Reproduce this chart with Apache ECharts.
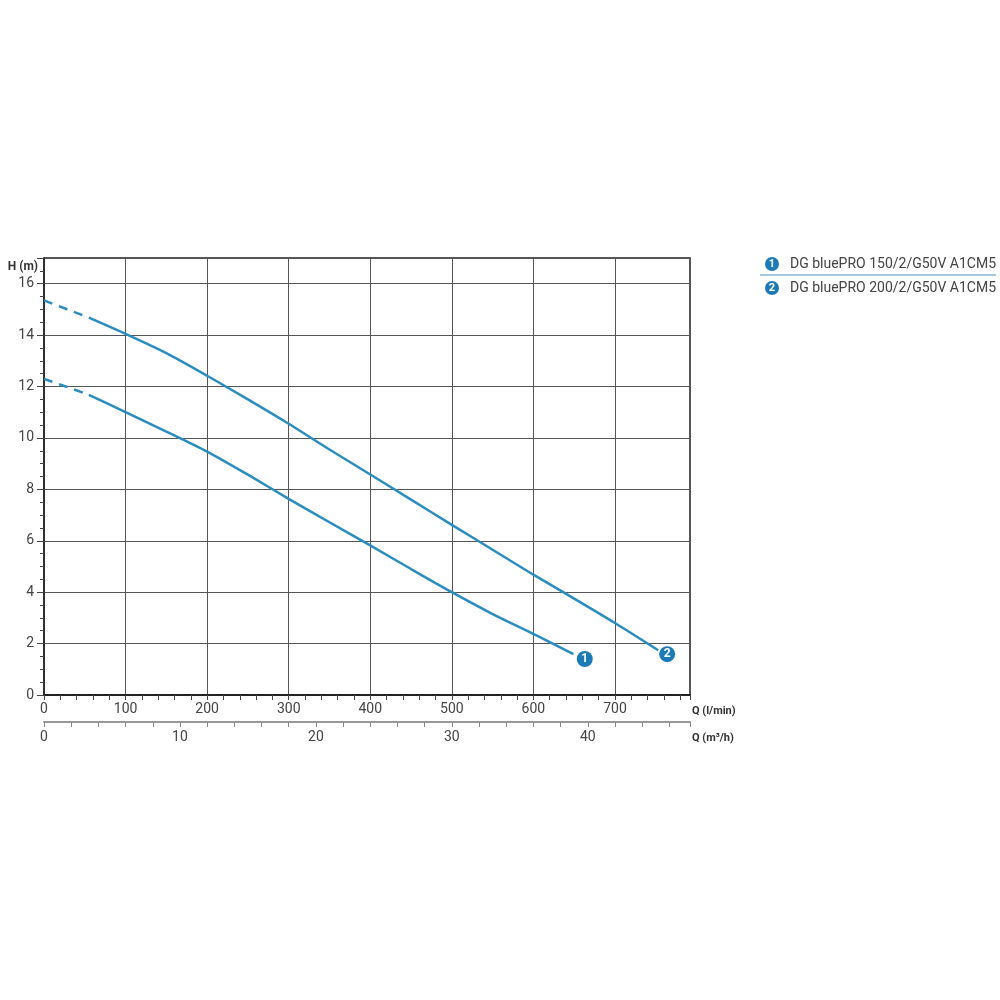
<!DOCTYPE html>
<html>
<head>
<meta charset="utf-8">
<script src="https://cdn.jsdelivr.net/npm/echarts@6/dist/echarts.min.js"></script>
<style>
  html, body { margin: 0; padding: 0; background: #fff; }
  #chart { width: 1000px; height: 1000px; }
</style>
</head>
<body>
<div id="chart"></div>
<script>
  // pump names (legend)
  const pumpNames = ['DG bluePRO 150/2/G50V A1CM5', 'DG bluePRO 200/2/G50V A1CM5']
  const pumpTags = ['1', '2']

  // Q (l/min) and H (m)
  const flow1 = [0, 55, 100, 150, 200, 250, 300, 350, 400, 450, 500, 550, 600, 649]
  const head1 = [12.3, 11.68, 11.0, 10.25, 9.47, 8.57, 7.63, 6.72, 5.82, 4.9, 4.0, 3.15, 2.38, 1.59]
  const flow2 = [0, 55, 100, 150, 200, 250, 300, 350, 400, 450, 500, 550, 600, 650, 700, 753]
  const head2 = [15.35, 14.68, 14.05, 13.3, 12.42, 11.5, 10.55, 9.55, 8.58, 7.6, 6.62, 5.65, 4.68, 3.75, 2.8, 1.74]
  const dashEnd = 55 // below this flow the curves are drawn dashed

  // numbered badges at the end of each curve
  const tagFlow = [663, 764]
  const tagHead = [1.40, 1.59]

  const lineColor = '#2b8cc0'
  const tagColor = '#1c7bb6'
  const lpmMax = 792
  const m3hMax = lpmMax * 60 / 1000

  const chart = echarts.init(document.getElementById('chart'))

  function pairs(xs, ys, keep) {
    return xs.map((x, i) => [x, ys[i]]).filter(p => keep(p[0]))
  }

  const curves = [[flow1, head1], [flow2, head2]]
  const series = []
  curves.forEach(([fx, hy]) => {
    series.push({
      type: 'line',
      data: pairs(fx, hy, x => x <= dashEnd),
      smooth: 0.25,
      symbol: 'none',
      lineStyle: { color: lineColor, width: 2.5, type: [9, 7] },
      silent: true
    })
    series.push({
      type: 'line',
      data: pairs(fx, hy, x => x >= dashEnd),
      smooth: 0.25,
      symbol: 'none',
      lineStyle: { color: lineColor, width: 2.5 },
      silent: true
    })
  })
  series.push({
    type: 'scatter',
    data: tagFlow.map((q, i) => ({ value: [q, tagHead[i]], name: pumpTags[i] })),
    symbol: 'circle',
    symbolSize: 16,
    itemStyle: { color: tagColor, opacity: 1 },
    label: {
      show: true,
      position: 'inside',
      formatter: p => p.name,
      color: '#fff',
      fontWeight: 'bold',
      fontSize: 12,
      fontFamily: 'Roboto'
    },
    silent: true,
    z: 5
  })

  // legend drawn as graphics so it keeps the numbered badges
  const legendItems = []
  pumpNames.forEach((name, i) => {
    const y = 264 + i * 24
    legendItems.push({
      type: 'circle',
      shape: { cx: 772, cy: y, r: 7 },
      style: { fill: tagColor }
    })
    legendItems.push({
      type: 'text',
      x: 772, y: y,
      style: {
        text: pumpTags[i], fill: '#fff', font: 'bold 11px Roboto',
        align: 'center', verticalAlign: 'middle'
      }
    })
    legendItems.push({
      type: 'text',
      x: 790, y: y,
      style: {
        text: name, fill: '#444', font: '14px Roboto',
        align: 'left', verticalAlign: 'middle'
      }
    })
  })
  legendItems.push({
    type: 'line',
    shape: { x1: 760, y1: 275, x2: 996, y2: 275 },
    style: { stroke: '#4a95c2', lineWidth: 1 }
  })

  const labelStyle = { fontSize: 14, color: '#444', fontFamily: 'Roboto' }
  const nameStyle = {
    fontSize: 11, fontWeight: 'bold', color: '#333', fontFamily: 'Roboto',
    verticalAlign: 'top', padding: [11, 0, 0, 0]
  }

  const option = {
    animation: false,
    backgroundColor: '#fff',
    grid: {
      left: 44, right: 310, top: 258, bottom: 305,
      show: true, borderColor: '#222', borderWidth: 1.5
    },
    xAxis: [
      {
        type: 'value',
        position: 'bottom',
        min: 0, max: lpmMax, interval: 100,
        name: 'Q (l/min)',
        nameLocation: 'end',
        nameGap: 2,
        nameTextStyle: nameStyle,
        axisLine: { show: true, onZero: false, lineStyle: { color: '#222', width: 2 } },
        axisTick: { show: true, length: 5, lineStyle: { color: '#444' } },
        minorTick: { show: true, splitNumber: 5, length: 5, lineStyle: { color: '#444' } },
        axisLabel: Object.assign({ margin: 7, showMaxLabel: false }, labelStyle),
        splitLine: { show: true, lineStyle: { color: '#555', width: 1 } }
      },
      {
        type: 'value',
        position: 'bottom',
        offset: 27,
        min: 0, max: m3hMax, interval: 10,
        name: 'Q (m³/h)',
        nameLocation: 'end',
        nameGap: 2,
        nameTextStyle: nameStyle,
        axisLine: { show: true, onZero: false, lineStyle: { color: '#999', width: 2 } },
        axisTick: { show: true, length: 5, lineStyle: { color: '#888' } },
        minorTick: { show: true, splitNumber: 5, length: 5, lineStyle: { color: '#888' } },
        axisLabel: Object.assign({ margin: 8, showMaxLabel: false }, labelStyle),
        splitLine: { show: false }
      }
    ],
    yAxis: {
      type: 'value',
      min: 0, max: 17, interval: 2,
      name: 'H (m)',
      nameLocation: 'end',
      nameGap: -3,
      nameTextStyle: {
        fontSize: 12, fontWeight: 'bold', color: '#333', fontFamily: 'Roboto',
        align: 'right', verticalAlign: 'top', padding: [0, 6, 0, 0]
      },
      axisLine: { show: true, lineStyle: { color: '#222', width: 1.5 } },
      axisTick: { show: true, length: 7, lineStyle: { color: '#444' } },
      minorTick: { show: true, splitNumber: 4, length: 4, lineStyle: { color: '#444' } },
      axisLabel: Object.assign({ margin: 10, showMaxLabel: false }, labelStyle),
      splitLine: { show: true, lineStyle: { color: '#555', width: 1 } }
    },
    series: series,
    graphic: legendItems
  }

  chart.setOption(option)
</script>
</body>
</html>
